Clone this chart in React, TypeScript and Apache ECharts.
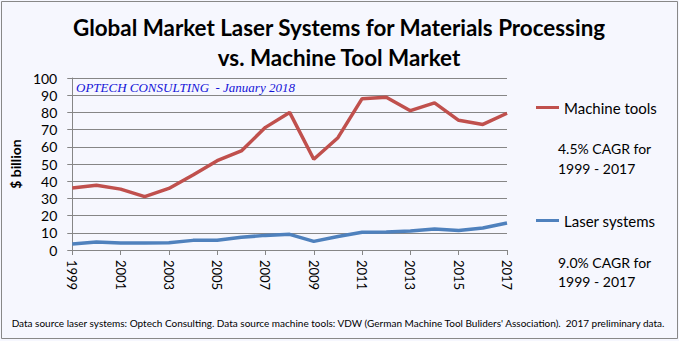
import React, { useEffect, useRef } from "react";
import * as echarts from "echarts";

const years = ["1999","2000","2001","2002","2003","2004","2005","2006","2007","2008","2009","2010","2011","2012","2013","2014","2015","2016","2017"];
const machineTools = [36, 37.6, 35.4, 31, 35.8, 43.6, 51.9, 57.6, 71.3, 80, 52.8, 65.3, 88, 88.8, 81, 85.5, 75.4, 73, 79.5];
const laserSystems = [3.5, 4.6, 4.1, 4.1, 4.2, 5.6, 5.7, 7.4, 8.5, 9.1, 5.0, 7.9, 10.3, 10.5, 11.0, 12.2, 11.4, 12.8, 15.7];
const titleLines = ["Global Market Laser Systems for Materials Processing", "vs. Machine Tool Market"];
const watermark = "OPTECH CONSULTING  - January 2018";
const cagrMachine = ["4.5% CAGR for", "1999 - 2017"];
const cagrLaser = ["9.0% CAGR for", "1999 - 2017"];
const footnote = "Data source laser systems: Optech Consulting. Data source machine tools: VDW (German Machine Tool Buliders' Association).  2017 preliminary data.";

const FONT = "Lato, 'Open Sans', sans-serif";

export default function App() {
  const ref = useRef<HTMLDivElement>(null);
  useEffect(() => {
    if (!ref.current) return;
    const chart = echarts.init(ref.current, undefined, { renderer: "svg" });
    const txt = (text: string, x: number, y: number, style: any) => ({
      type: "text",
      x,
      y,
      silent: true,
      style: { text, fill: "#000", fontFamily: FONT, textVerticalAlign: "middle", verticalAlign: "middle", ...style },
    });
    chart.setOption({
      animation: false,
      backgroundColor: "#F6F7FE",
      textStyle: { fontFamily: FONT },
      grid: { left: 64, top: 78, width: 443, height: 172, containLabel: false },
      legend: {
        orient: "vertical",
        left: 531,
        top: 95,
        itemGap: 98,
        itemWidth: 23,
        itemHeight: 3,
        icon: "rect",
        textStyle: { fontSize: 15, color: "#000", fontFamily: FONT },
        data: ["Machine tools", "Laser systems"],
      },
      xAxis: {
        type: "category",
        data: years,
        boundaryGap: false,
        axisLine: { lineStyle: { color: "#868686", width: 1 } },
        axisTick: { interval: 1, length: 5, lineStyle: { color: "#868686" } },
        axisLabel: { interval: 1, rotate: -90, fontSize: 13, color: "#000", margin: 10, fontFamily: FONT },
      },
      yAxis: {
        type: "value",
        min: 0,
        max: 100,
        interval: 10,
        name: "$ billion",
        nameLocation: "middle",
        nameGap: 47,
        nameRotate: 90,
        nameTextStyle: { fontSize: 14, fontWeight: "bold", color: "#000", fontFamily: FONT },
        axisLine: { show: true, lineStyle: { color: "#868686", width: 1 } },
        axisTick: { show: true, length: 5, lineStyle: { color: "#868686" } },
        axisLabel: { fontSize: 14, color: "#000", margin: 15, fontFamily: FONT },
        splitLine: { lineStyle: { color: "#868686", width: 1 } },
      },
      series: [
        {
          name: "Machine tools",
          type: "line",
          data: machineTools,
          symbol: "none",
          lineStyle: { color: "#C0504D", width: 3.5 },
          itemStyle: { color: "#C0504D" },
        },
        {
          name: "Laser systems",
          type: "line",
          data: laserSystems,
          symbol: "none",
          lineStyle: { color: "#4F81BD", width: 3.5 },
          itemStyle: { color: "#4F81BD" },
        },
      ],
      graphic: [
        {
          type: "rect",
          shape: { x: 1.5, y: 1.5, width: 676, height: 337 },
          style: { fill: "none", stroke: "#888", lineWidth: 1 },
          silent: true,
        },
        txt(titleLines[0], 339, 27, { fontSize: 22.4, fontWeight: "bold", textAlign: "center", align: "center" }),
        txt(titleLines[1], 339, 57, { fontSize: 22.4, fontWeight: "bold", textAlign: "center", align: "center" }),
        txt(watermark, 76, 87, { fontSize: 13, fontStyle: "italic", fontFamily: "'Liberation Serif', 'Times New Roman', serif", fill: "#1414D8", textAlign: "left", align: "left" }),
        txt(cagrMachine[0], 558, 148.5, { fontSize: 14, textAlign: "left", align: "left" }),
        txt(cagrMachine[1], 558, 168, { fontSize: 14, textAlign: "left", align: "left" }),
        txt(cagrLaser[0], 558, 262, { fontSize: 14, textAlign: "left", align: "left" }),
        txt(cagrLaser[1], 558, 281, { fontSize: 14, textAlign: "left", align: "left" }),
        txt(footnote, 338, 323, { fontSize: 10, textAlign: "center", align: "center" }),
      ],
    });
    return () => chart.dispose();
  }, []);
  return <div ref={ref} style={{ position: "absolute", left: 0, top: 0, width: 679, height: 341 }} />;
}
